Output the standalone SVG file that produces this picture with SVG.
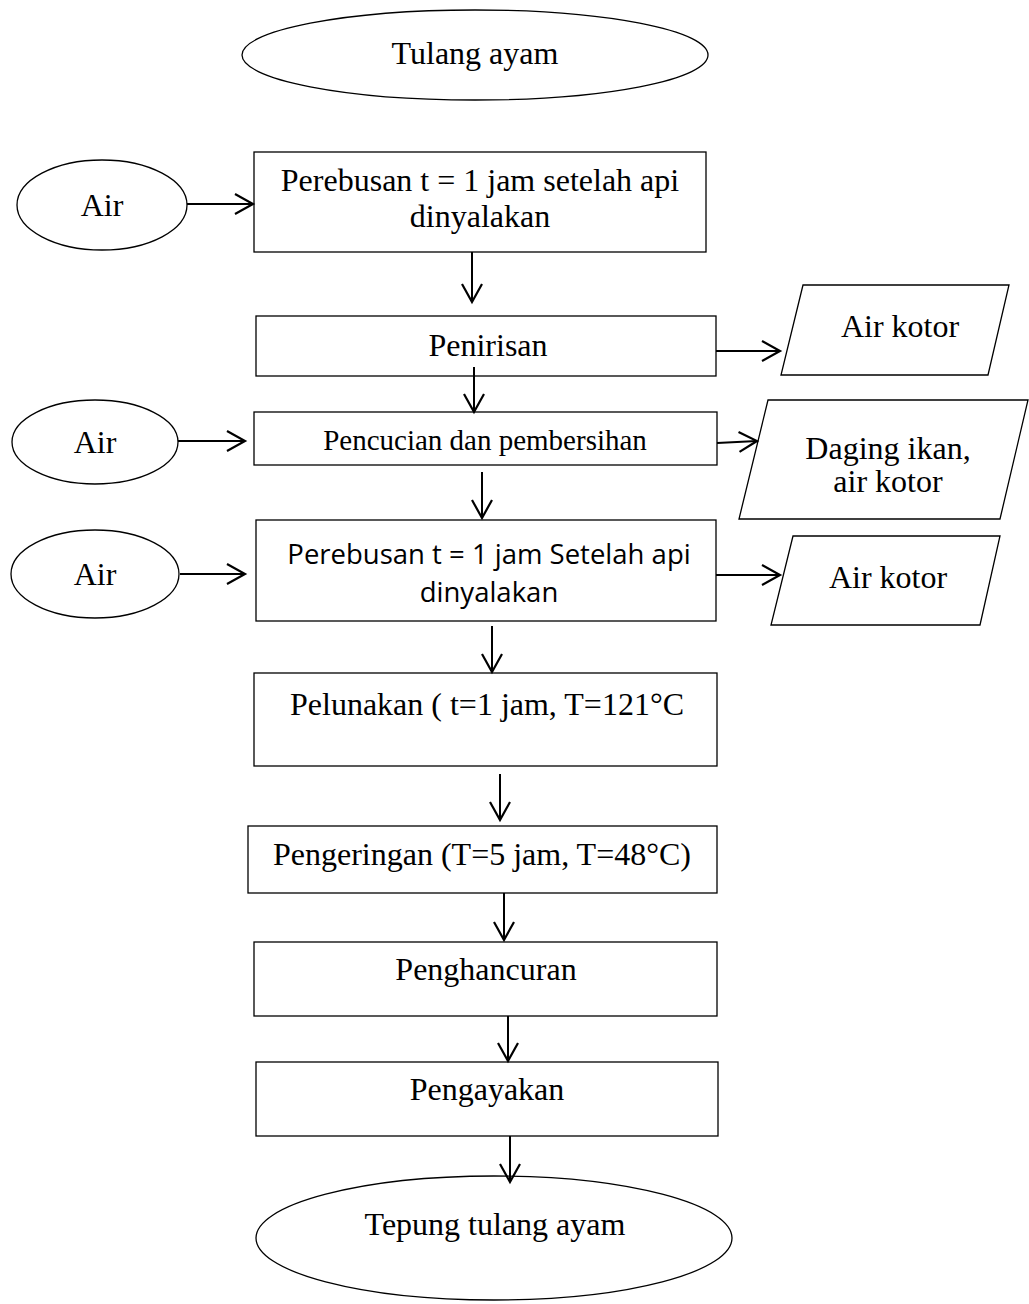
<svg xmlns="http://www.w3.org/2000/svg" width="1029" height="1304" viewBox="0 0 1029 1304">
<style>
.s{fill:#fff;stroke:#000;stroke-width:1.3}
.t{font-family:"Liberation Serif","Times New Roman",serif;font-size:32px;fill:#000;text-anchor:middle}
.c{font-family:"Open Sans","Noto Sans",sans-serif;font-size:27.5px;fill:#000;text-anchor:middle}
.a{fill:none;stroke:#000;stroke-width:2;marker-end:url(#ah)}
</style>
<defs>
<marker id="ah" markerUnits="userSpaceOnUse" markerWidth="22" markerHeight="24" refX="19" refY="11" orient="auto" viewBox="0 0 22 24">
<path d="M1,1 L19,11 L1,21" fill="none" stroke="#000" stroke-width="2.2"/>
</marker>
</defs>
<g id="n_tulang"><ellipse class="s" cx="475" cy="55" rx="233" ry="45"/><text class="t" x="475" y="64">Tulang ayam</text></g>
<g id="n_air1"><ellipse class="s" cx="102" cy="205" rx="85" ry="45"/><text class="t" x="102" y="216">Air</text></g>
<g id="n_rebus1"><rect class="s" x="254" y="152" width="452" height="100"/><text class="t" x="480" y="191">Perebusan t = 1 jam setelah  api</text><text class="t" x="480" y="227">dinyalakan</text></g>
<g id="n_tiris"><rect class="s" x="256" y="316" width="460" height="60"/><text class="t" x="488" y="356">Penirisan</text></g>
<g id="n_kotor1"><polygon class="s" points="803,285 1009,285 988,375 781,375"/><text class="t" x="900" y="337">Air kotor</text></g>
<g id="n_air2"><ellipse class="s" cx="95" cy="442" rx="83" ry="42"/><text class="t" x="95" y="453">Air</text></g>
<g id="n_cuci"><rect class="s" x="254" y="412" width="463" height="53"/><text class="t" x="485" y="450" style="font-size:29px">Pencucian dan pembersihan</text></g>
<g id="n_daging"><polygon class="s" points="768,400 1028,400 1000,519 739,519"/><text class="t" x="888" y="459">Daging ikan,</text><text class="t" x="888" y="492">air kotor</text></g>
<g id="n_air3"><ellipse class="s" cx="95" cy="574" rx="84" ry="44"/><text class="t" x="95" y="585">Air</text></g>
<g id="n_rebus2"><rect class="s" x="256" y="520" width="460" height="101"/><text class="c" x="489" y="564">Perebusan t = 1 jam Setelah api</text><text class="c" x="489" y="602">dinyalakan</text></g>
<g id="n_kotor2"><polygon class="s" points="793,536 1000,536 980,625 771,625"/><text class="t" x="888" y="588">Air kotor</text></g>
<g id="n_lunak"><rect class="s" x="254" y="673" width="463" height="93"/><text class="t" x="487" y="715">Pelunakan ( t=1 jam, T=121°C</text></g>
<g id="n_kering"><rect class="s" x="248" y="826" width="469" height="67"/><text class="t" x="482" y="865">Pengeringan (T=5 jam, T=48°C)</text></g>
<g id="n_hancur"><rect class="s" x="254" y="942" width="463" height="74"/><text class="t" x="486" y="980">Penghancuran</text></g>
<g id="n_ayak"><rect class="s" x="256" y="1062" width="462" height="74"/><text class="t" x="487" y="1100">Pengayakan</text></g>
<g id="n_tepung"><ellipse class="s" cx="494" cy="1238" rx="238" ry="62"/><text class="t" x="495" y="1235">Tepung tulang ayam</text></g>
<g id="connectors">
<line class="a" x1="187" y1="204" x2="253" y2="204"/>
<line class="a" x1="472" y1="252" x2="472" y2="302"/>
<line class="a" x1="716" y1="351" x2="780" y2="351"/>
<line class="a" x1="474" y1="367" x2="474" y2="412"/>
<line class="a" x1="178" y1="441" x2="245" y2="441"/>
<line class="a" x1="717" y1="443" x2="757" y2="441"/>
<line class="a" x1="482" y1="472" x2="482" y2="518"/>
<line class="a" x1="180" y1="574" x2="245" y2="574"/>
<line class="a" x1="716" y1="575" x2="780" y2="575"/>
<line class="a" x1="492" y1="626" x2="492" y2="672"/>
<line class="a" x1="500" y1="774" x2="500" y2="820"/>
<line class="a" x1="504" y1="893" x2="504" y2="940"/>
<line class="a" x1="508" y1="1016" x2="508" y2="1061"/>
<line class="a" x1="510" y1="1136" x2="510" y2="1182"/>
</g>
</svg>
